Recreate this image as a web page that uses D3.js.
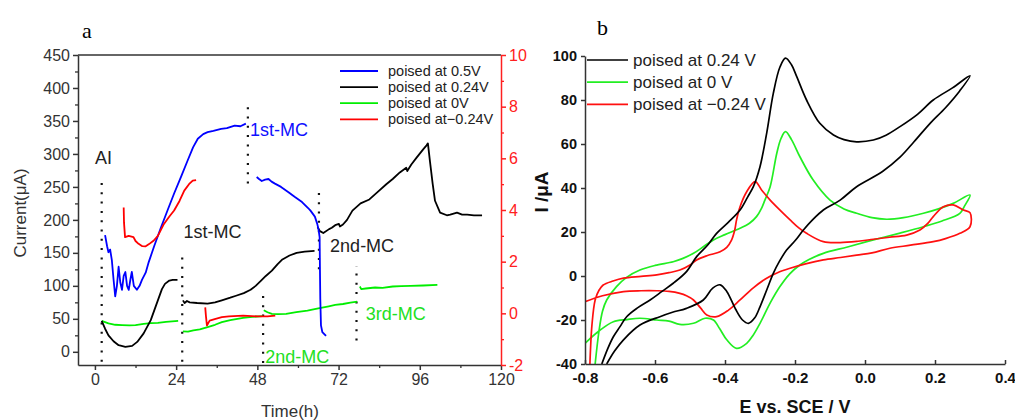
<!DOCTYPE html>
<html>
<head>
<meta charset="utf-8">
<script src="https://d3js.org/d3.v7.min.js"></script>
<style>
  body { margin: 0; background: #fff; }
  text { font-family: Arial, "Liberation Sans", sans-serif; }
</style>
</head>
<body>
<div id="chart"></div>
<script>
// ---- panel a : current vs time (null = break in the trace) ----
var timeTicks = [0, 24, 48, 72, 96, 120];
var currentTicks = [0, 50, 100, 150, 200, 250, 300, 350, 400, 450];
var rightTicks = [-2, 0, 2, 4, 6, 8, 10];

var poised05 = [[3.0,177],[3.6,160],[4.0,151],[4.5,155],[5.0,139],[5.5,110],[6.0,84],[6.5,100],[7.0,129],[7.5,105],[8.0,94],[8.5,115],[9.0,121],[9.5,100],[10.0,94],[10.5,110],[10.9,121],[11.5,100],[12.4,94],[13.2,100],[13.9,109],[15.0,120],[15.9,136],[17.5,160],[19.4,187],[21.5,215],[23.4,240],[25.5,266],[27.4,290],[29,310],[30.4,323],[32,330],[33.3,333],[35,335],[37.3,338],[39,339],[41.3,343],[43,342],[44.6,346],
  null,
  [47.8,265],[48.5,262],[49.3,259],[50.3,261],[51.3,262],[52.2,258],[53.2,255],[55,250],[57.2,242],[59,235],[61.2,227],[63,218],[63.7,214],[65,205],[65.7,194],[66.1,185],[66.4,174],[66.5,124],[66.6,80],[66.8,40],[67.2,30],[68.3,24]];

var poised024 = [[2.0,47],[3.0,35],[4.0,25],[5.5,16],[7.0,10],[9.0,7.5],[11.0,9],[12.5,15],[14.4,28],[16.5,48],[18.6,78],[19.8,95],[20.7,103],[22.0,108],[23,109],[24.4,109],
  null,
  [26.0,78],[26.5,74],[27.2,77],[28,75],[30.2,74],[33.3,73],[35.5,75],[37.5,78],[40,82],[41.7,85],[44,89],[46.0,94],[47.5,100],[49.1,108],[50.5,115],[52.3,123],[54,133],[55.4,140],[57.5,146],[59.6,150],[62,152],[64.9,153],
  null,
  [65.8,189],[66.5,183],[67.5,180],[69.2,186],[70,188],[71,192],[72.1,194],[72.4,190],[73.3,193],[74.5,200],[75.4,208],[76.1,214],[78.5,225],[81.1,231],[83.5,242],[86.1,254],[88,262],[90.1,272],[92.0,279],[92.3,274],[93.5,284],[95.0,294],[97.0,307],[98.0,313],[98.4,316],[99.0,289],[99.8,255],[100.5,229],[102,211],[104,207],[105,208],[107,211],[108.5,208],[110,208],[112,207],[114.4,207]];

var poised0 = [[2.0,47],[4,43],[6,41],[8,40.5],[10.2,40],[12,40.5],[14.4,42.5],[16.5,43.5],[18.6,44],[21,45.5],[24.6,47],
  null,
  [26.0,31],[27.5,30.5],[29.1,32.5],[31,34],[33.3,37.5],[35.5,41],[37.5,45],[40,48],[43.8,51.5],[46.5,53],[49.6,54],
  null,
  [49.9,63],[51,60],[52.3,57.5],[54,57],[56.5,57.5],[59.5,60],[62.8,62.5],[66,66],[69.1,69],[71,71],[73.3,72.5],[75.5,74.5],[77.5,76],
  null,
  [78.3,99],[78.7,95],[80,96],[82.8,97.5],[85,97],[88,99],[90.5,99.5],[93.3,100],[97,100.5],[101.2,101.5]];

// red trace is read on the right axis
var poisedM024 = [[8.5,4.1],[8.6,3.5],[8.9,2.95],[10,3.0],[11.4,2.95],[12.0,2.8],[12.9,2.69],[14.0,2.6],[14.9,2.59],[16,2.68],[17.4,2.82],[18.6,3.0],[20.4,3.46],[22,3.75],[23.4,3.98],[25,4.35],[26.4,4.75],[27.8,5.0],[28.9,5.14],[29.9,5.16],
  null,
  [32.6,0.23],[32.8,-0.1],[33.1,-0.47],[33.9,-0.28],[35.4,-0.22],[37.5,-0.15],[39.6,-0.12],[43.8,-0.09],[48.1,-0.12],[51,-0.12],[53.3,-0.09]];

// dotted markers : [time, from, to]
var markers = [[2.0,-15,265],[25.8,-15,148],[45.2,255,375],[66.2,125,248],[49.7,-17,95],[77.3,17,130]];
// annotations : [text, time, current, colour]
var notes = [["AI",0.0,285,"#222"],["1st-MC",26.2,172,"#222"],["1st-MC",45.8,327,"#1010ff"],["2nd-MC",69.5,151,"#222"],["2nd-MC",50.3,-17,"#22e022"],["3rd-MC",80.0,48,"#22e022"]];

var legendA = ["poised at 0.5V","poised at 0.24V","poised at 0V","poised at\u22120.24V"];
var colorsA = ["#0000ff","#000000","#00ee00","#ff0000"];

// ---- panel b : cyclic voltammograms ----
var potentialTicks = [-0.8,-0.6,-0.4,-0.2,0.0,0.2,0.4];
var cvTicks = [-40,-20,0,20,40,60,80,100];

var cv024 = [[-0.752,-40],[-0.735,-33],[-0.719,-27.6],[-0.70,-23],[-0.681,-18.5],[-0.65,-14.5],[-0.614,-10.9],[-0.58,-7],[-0.548,-3.3],[-0.51,2],[-0.481,8.8],[-0.45,14],[-0.424,19.4],[-0.39,24.5],[-0.357,30],[-0.335,36],[-0.319,40.6],[-0.3,49.7],[-0.281,64.8],[-0.262,83],[-0.243,95],[-0.227,99],[-0.21,96],[-0.195,90.6],[-0.167,80],[-0.129,69.4],[-0.09,64.1],[-0.06,62],[-0.024,61],[0.024,61.8],[0.06,64],[0.1,67.9],[0.15,73.5],[0.195,80],[0.25,85.5],[0.3,91],
  [0.27,84],[0.23,76.5],[0.186,69.4],[0.14,61],[0.1,54],[0.05,47.5],[-0.024,40.6],[-0.071,34.5],[-0.119,30],[-0.15,25.5],[-0.176,20.9],[-0.2,16],[-0.224,11.8],[-0.245,6.5],[-0.262,1.2],[-0.28,-6],[-0.3,-14],[-0.315,-19],[-0.333,-21.5],[-0.35,-20],[-0.37,-15],[-0.395,-7],[-0.414,-4],[-0.435,-5.5],[-0.462,-10.9],[-0.51,-14.7],[-0.55,-16.5],[-0.586,-18.5],[-0.643,-22.3],[-0.69,-29],[-0.715,-34],[-0.738,-40]];

var cv0 = [[-0.771,-40],[-0.76,-25],[-0.75,-16],[-0.738,-10.9],[-0.71,-4.8],[-0.68,-0.5],[-0.643,2.7],[-0.6,4.8],[-0.548,6.5],[-0.52,8],[-0.49,10.3],[-0.46,13.5],[-0.433,16.4],[-0.4,18.8],[-0.357,21.7],[-0.33,24],[-0.31,27],[-0.295,31],[-0.286,34.5],[-0.271,40.6],[-0.252,55.8],[-0.24,62.5],[-0.227,65.6],[-0.21,62],[-0.186,54.2],[-0.148,43.6],[-0.1,34.5],[-0.06,30.5],[-0.024,28.5],[0.02,26.5],[0.062,25.8],[0.11,26.5],[0.167,28.5],[0.21,30.5],[0.252,33],[0.3,36.8],
  [0.285,32],[0.271,28.5],[0.22,25],[0.167,22.4],[0.1,19.5],[0.024,16.4],[-0.05,13.2],[-0.119,10.3],[-0.16,7.5],[-0.186,5],[-0.215,1],[-0.243,-4.8],[-0.27,-12],[-0.3,-21.5],[-0.32,-27],[-0.338,-30.6],[-0.367,-32.9],[-0.395,-29],[-0.415,-24],[-0.433,-20],[-0.457,-19.2],[-0.49,-21.5],[-0.529,-22],[-0.56,-20.5],[-0.595,-20],[-0.643,-19.2],[-0.68,-19.8],[-0.719,-20.8],[-0.76,-25],[-0.8,-30.6]];

var cvM024 = [[-0.786,-40],[-0.78,-22],[-0.771,-10.9],[-0.76,-6.5],[-0.748,-4.1],[-0.72,-2.3],[-0.69,-1],[-0.64,-0.2],[-0.595,0.5],[-0.56,1.5],[-0.529,2.7],[-0.5,5],[-0.481,7.3],[-0.45,9.3],[-0.414,11],[-0.395,13],[-0.381,16.4],[-0.372,21],[-0.367,25.5],[-0.357,31.5],[-0.338,38.3],[-0.314,42.9],[-0.295,39],[-0.271,34.5],[-0.24,29.5],[-0.214,25.5],[-0.19,22],[-0.167,19.4],[-0.119,15.6],[-0.071,15.2],[-0.02,15.8],[0.024,16.7],[0.07,17.6],[0.119,18.6],[0.157,20.9],[0.18,24],[0.195,27],[0.224,31.5],[0.252,32.3],[0.281,30],[0.3,28.8],
  [0.3,22.4],[0.271,19.4],[0.23,17],[0.195,15.6],[0.13,14],[0.071,12.6],[0.02,10.5],[-0.024,9.5],[-0.07,8.4],[-0.119,7.3],[-0.17,5.5],[-0.214,3.5],[-0.25,1.5],[-0.281,-1],[-0.32,-5.5],[-0.357,-10.9],[-0.39,-15.5],[-0.424,-18.5],[-0.452,-17.7],[-0.47,-14.5],[-0.49,-10.9],[-0.51,-9],[-0.529,-7.9],[-0.56,-7],[-0.595,-6.7],[-0.64,-6.7],[-0.69,-7.1],[-0.75,-9],[-0.8,-11.7]];

var legendB = ["poised at 0.24 V","poised at 0 V","poised at \u22120.24 V"];
var colorsB = ["#000000","#22ee22","#ff1010"];

var svg = d3.select("#chart").append("svg")
    .attr("width", 1015)
    .attr("height", 420);

/**** panel a ****/
var ax = d3.scaleLinear().domain([-5, 120]).range([78, 501]);
var ay = d3.scaleLinear().domain([-20, 450]).range([365, 55]);
var ayR = d3.scaleLinear().domain([-2, 10]).range([365, 55]);
var axisGrey = "#333";
var hyphen = function(f){ return function(d){ return f(d).replace("\u2212", "-"); }; };

svg.append("text").attr("x", 82).attr("y", 38)
    .style("font-family", "'Liberation Serif', 'DejaVu Serif', serif")
    .style("font-size", "22px").text("a");

svg.append("defs").append("clipPath").attr("id", "clipA")
    .append("rect").attr("x", 78).attr("y", 55).attr("width", 423).attr("height", 310);
svg.select("defs").append("clipPath").attr("id", "clipB")
    .append("rect").attr("x", 585).attr("y", 40).attr("width", 420).attr("height", 324);

var gA = svg.append("g").attr("clip-path", "url(#clipA)");

// dotted markers
gA.selectAll(".marker").data(markers).enter().append("line")
    .attr("class", "marker")
    .attr("x1", function(d){ return ax(d[0]); })
    .attr("x2", function(d){ return ax(d[0]); })
    .attr("y1", function(d){ return ay(d[1]); })
    .attr("y2", function(d){ return ay(d[2]); })
    .attr("stroke", "#111").attr("stroke-width", 2.2)
    .attr("stroke-dasharray", "2,7.3");

var lineL = d3.line().defined(function(d){ return d !== null; })
    .x(function(d){ return ax(d[0]); })
    .y(function(d){ return ay(d[1]); });
var lineR = d3.line().defined(function(d){ return d !== null; })
    .x(function(d){ return ax(d[0]); })
    .y(function(d){ return ayR(d[1]); });

[[poised0, 2], [poised024, 1], [poised05, 0]].forEach(function(s){
    gA.append("path").datum(s[0])
        .attr("d", lineL)
        .attr("fill", "none")
        .attr("stroke", colorsA[s[1]])
        .attr("stroke-width", 1.8)
        .attr("stroke-linejoin", "round");
});
gA.append("path").datum(poisedM024)
    .attr("d", lineR)
    .attr("fill", "none")
    .attr("stroke", colorsA[3])
    .attr("stroke-width", 1.8)
    .attr("stroke-linejoin", "round");

svg.selectAll(".note").data(notes).enter().append("text")
    .attr("class", "note")
    .attr("x", function(d){ return ax(d[1]); })
    .attr("y", function(d){ return ay(d[2]); })
    .attr("fill", function(d){ return d[3]; })
    .style("font-size", "18px")
    .text(function(d){ return d[0]; });

// axes
function styleAxis(g, color, fontSize){
    g.selectAll("path,line").attr("stroke", color).attr("stroke-width", 1.5);
    g.selectAll("text").attr("fill", color).style("font-size", fontSize)
        .style("font-family", "Arial, 'Liberation Sans', sans-serif");
}

var bottomA = svg.append("g").attr("transform", "translate(0,365)")
    .call(d3.axisBottom(ax).tickValues(timeTicks).tickSize(5).tickSizeOuter(0).tickPadding(4));
styleAxis(bottomA, axisGrey, "16px");
svg.append("g").attr("transform", "translate(0,365)")
    .call(d3.axisBottom(ax).tickValues(d3.range(12, 120, 24)).tickSize(3).tickFormat(""))
    .call(function(g){ g.select(".domain").remove(); g.selectAll("line").attr("stroke", axisGrey).attr("stroke-width", 1.3); });

var leftA = svg.append("g").attr("transform", "translate(78,0)")
    .call(d3.axisLeft(ay).tickValues(currentTicks).tickSize(5).tickSizeOuter(0).tickPadding(3));
styleAxis(leftA, axisGrey, "16px");
svg.append("g").attr("transform", "translate(78,0)")
    .call(d3.axisLeft(ay).tickValues(d3.range(25, 450, 50)).tickSize(3).tickFormat(""))
    .call(function(g){ g.select(".domain").remove(); g.selectAll("line").attr("stroke", axisGrey).attr("stroke-width", 1.3); });

svg.append("line").attr("x1", 78).attr("x2", 501).attr("y1", 55).attr("y2", 55)
    .attr("stroke", axisGrey).attr("stroke-width", 1.5);

var rightA = svg.append("g").attr("transform", "translate(501,0)")
    .call(d3.axisRight(ayR).tickValues(rightTicks).tickSize(5).tickSizeOuter(0).tickPadding(3)
        .tickFormat(hyphen(d3.format("d"))));
styleAxis(rightA, "#ff2020", "16px");
svg.append("g").attr("transform", "translate(501,0)")
    .call(d3.axisRight(ayR).tickValues([-1, 1, 3, 5, 7, 9]).tickSize(3).tickFormat(""))
    .call(function(g){ g.select(".domain").remove(); g.selectAll("line").attr("stroke", "#ff2020").attr("stroke-width", 1.3); });

svg.append("text").attr("transform", "translate(26,213) rotate(-90)")
    .attr("text-anchor", "middle").attr("fill", axisGrey)
    .style("font-size", "17px").text("Current(\u03bcA)");
svg.append("text").attr("x", 290).attr("y", 417)
    .attr("text-anchor", "middle").attr("fill", axisGrey)
    .style("font-size", "17px").text("Time(h)");

// legend a
var legA = svg.append("g");
legendA.forEach(function(t, i){
    var yy = 71 + i * 16.1;
    legA.append("line").attr("x1", 340).attr("x2", 378).attr("y1", yy).attr("y2", yy)
        .attr("stroke", colorsA[i]).attr("stroke-width", 1.8);
    legA.append("text").attr("x", 388).attr("y", yy + 5)
        .attr("fill", "#222").style("font-size", "14.5px").text(t);
});

/**** panel b ****/
var bx = d3.scaleLinear().domain([-0.8, 0.4]).range([585, 1005]);
var by = d3.scaleLinear().domain([-40, 100]).range([364, 56]);

svg.append("text").attr("x", 597).attr("y", 35)
    .style("font-family", "'Liberation Serif', 'DejaVu Serif', serif")
    .style("font-size", "22px").text("b");

var gB = svg.append("g").attr("clip-path", "url(#clipB)");
var cvLine = d3.line()
    .x(function(d){ return bx(d[0]); })
    .y(function(d){ return by(d[1]); })
    .curve(d3.curveCatmullRom.alpha(0.5));

[[cv0, 1], [cvM024, 2], [cv024, 0]].forEach(function(s){
    gB.append("path").datum(s[0])
        .attr("d", cvLine)
        .attr("fill", "none")
        .attr("stroke", colorsB[s[1]])
        .attr("stroke-width", 1.7);
});

var bottomB = svg.append("g").attr("transform", "translate(0,364)")
    .call(d3.axisBottom(bx).tickValues(potentialTicks).tickSize(-4).tickSizeOuter(0).tickPadding(8)
        .tickFormat(hyphen(d3.format(".1f"))));
styleAxis(bottomB, "#333", "15px");
bottomB.selectAll("text").style("font-weight", "bold").attr("fill", "#111");

var leftB = svg.append("g").attr("transform", "translate(585,0)")
    .call(d3.axisLeft(by).tickValues(cvTicks).tickSize(4).tickSizeOuter(0).tickPadding(4)
        .tickFormat(hyphen(d3.format("d"))));
styleAxis(leftB, "#333", "14.5px");
leftB.selectAll("text").style("font-weight", "bold").attr("fill", "#111");

svg.append("text").attr("x", 795).attr("y", 413)
    .attr("text-anchor", "middle").attr("fill", "#111")
    .style("font-size", "18px").style("font-weight", "bold").text("E vs. SCE / V");
svg.append("text").attr("transform", "translate(548,192) rotate(-90)")
    .attr("text-anchor", "middle").attr("fill", "#111")
    .style("font-size", "19px").style("font-weight", "bold").text("I /\u03bcA");

var legB = svg.append("g");
legendB.forEach(function(t, i){
    var yy = 60 + i * 22.2;
    legB.append("line").attr("x1", 587).attr("x2", 628).attr("y1", yy).attr("y2", yy)
        .attr("stroke", colorsB[i]).attr("stroke-width", 1.7);
    legB.append("text").attr("x", 633).attr("y", yy + 6)
        .attr("fill", "#222").style("font-size", "17px").text(t);
});
</script>
</body>
</html>
